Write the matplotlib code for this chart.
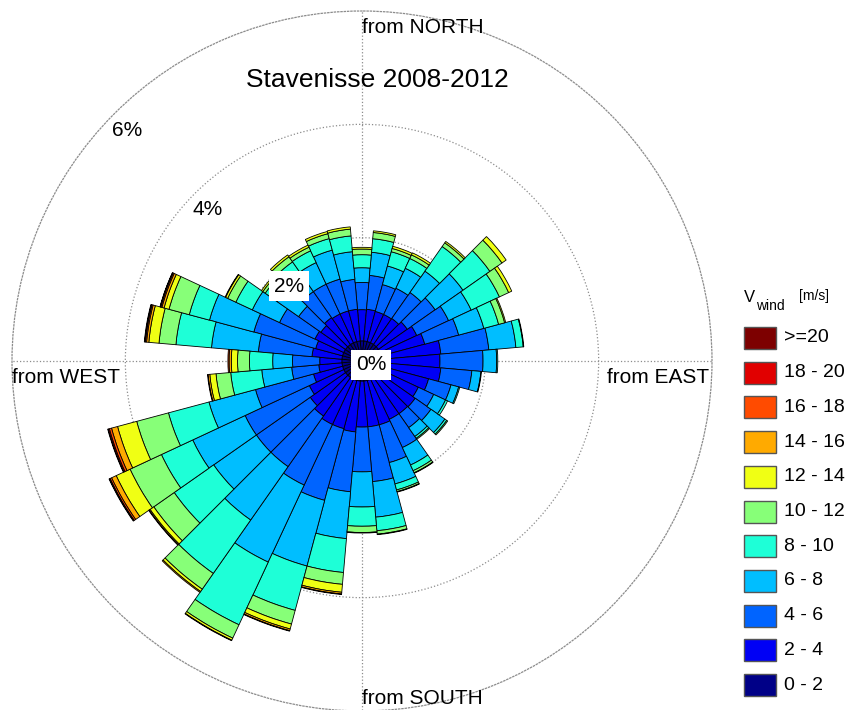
import numpy as np
import matplotlib
matplotlib.use("Agg")
import matplotlib.pyplot as plt
from matplotlib.patches import Rectangle

plt.rcParams["font.family"] = ["Liberation Sans", "DejaVu Sans"]

# ------------ data (frequency in % per 10 deg sector, "from" direction) ------------
DIRS = [0, 10, 20, 30, 40, 50, 60, 70, 80, 90, 100, 110,
        120, 130, 140, 150, 160, 170, 180, 190, 200, 210, 220, 230,
        240, 250, 260, 270, 280, 290, 300, 310, 320, 330, 340, 350]

F_0_2 = [0.18, 0.18, 0.18, 0.18, 0.18, 0.18, 0.18, 0.18, 0.18, 0.18, 0.18, 0.18,
         0.18, 0.18, 0.18, 0.18, 0.18, 0.18, 0.18, 0.18, 0.18, 0.18, 0.18, 0.18,
         0.18, 0.18, 0.18, 0.18, 0.18, 0.18, 0.18, 0.18, 0.18, 0.18, 0.18, 0.18]
F_2_4 = [0.55, 0.56, 0.55, 0.55, 0.56, 0.62, 0.71, 0.79, 1.04, 1.02, 1.04, 0.86,
         0.74, 0.79, 0.78, 0.78, 0.81, 0.81, 0.81, 0.90, 0.88, 0.88, 0.83, 0.76,
         0.67, 0.53, 0.41, 0.39, 0.53, 0.49, 0.56, 0.53, 0.58, 0.56, 0.56, 0.56]
F_4_6 = [0.48, 0.60, 0.49, 0.51, 0.56, 0.60, 0.62, 0.62, 0.85, 0.76, 0.55, 0.41,
         0.30, 0.34, 0.30, 0.55, 0.69, 0.97, 0.79, 1.06, 1.31, 1.18, 1.09, 1.16,
         1.25, 1.06, 0.48, 0.48, 0.95, 1.13, 0.69, 0.48, 0.56, 0.58, 0.58, 0.53]
F_6_8 = [0.26, 0.41, 0.34, 0.39, 0.46, 0.60, 0.44, 0.46, 0.48, 0.24, 0.16, 0.14,
         0.23, 0.30, 0.19, 0.34, 0.39, 0.63, 0.62, 0.83, 1.20, 1.50, 1.15, 0.92,
         1.02, 0.85, 0.53, 0.35, 0.83, 0.81, 0.53, 0.46, 0.34, 0.42, 0.53, 0.49]
F_8_10 = [0.23, 0.24, 0.26, 0.19, 0.53, 0.58, 0.55, 0.27, 0.13, 0.02, 0.01, 0.02,
          0.04, 0.04, 0.04, 0.11, 0.11, 0.24, 0.34, 0.60, 0.81, 1.22, 1.15, 0.85,
          0.61, 0.74, 0.55, 0.41, 0.63, 0.37, 0.32, 0.26, 0.30, 0.23, 0.21, 0.28]
F_10_12 = [0.10, 0.11, 0.06, 0.07, 0.08, 0.26, 0.18, 0.11, 0.01, 0.0, 0.0, 0.0,
           0.0, 0.02, 0.02, 0.04, 0.03, 0.06, 0.11, 0.21, 0.25, 0.26, 0.34, 0.44,
           0.61, 0.58, 0.26, 0.21, 0.30, 0.37, 0.16, 0.05, 0.11, 0.07, 0.09, 0.12]
F_12_14 = [0.03, 0.03, 0.04, 0.04, 0.03, 0.09, 0.06, 0.02, 0.0, 0.0, 0.0, 0.0,
           0.0, 0.0, 0.0, 0.01, 0.01, 0.01, 0.01, 0.14, 0.09, 0.04, 0.05, 0.08,
           0.27, 0.35, 0.11, 0.11, 0.18, 0.09, 0.04, 0.03, 0.04, 0.04, 0.04, 0.04]
F_14_16 = [0.0, 0.0, 0.0, 0.0, 0.0, 0.0, 0.0, 0.0, 0.0, 0.0, 0.0, 0.0,
           0.0, 0.0, 0.0, 0.0, 0.0, 0.0, 0.0, 0.03, 0.03, 0.01, 0.02, 0.02,
           0.09, 0.11, 0.03, 0.04, 0.04, 0.04, 0.01, 0.0, 0.0, 0.0, 0.0, 0.0]
F_16_18 = [0.0, 0.0, 0.0, 0.0, 0.0, 0.0, 0.0, 0.0, 0.0, 0.0, 0.0, 0.0,
           0.0, 0.0, 0.0, 0.0, 0.0, 0.0, 0.0, 0.01, 0.01, 0.0, 0.0, 0.01,
           0.03, 0.04, 0.01, 0.02, 0.02, 0.02, 0.0, 0.0, 0.0, 0.0, 0.0, 0.0]
F_18_20 = [0.0, 0.0, 0.0, 0.0, 0.0, 0.0, 0.0, 0.0, 0.0, 0.0, 0.0, 0.0,
           0.0, 0.0, 0.0, 0.0, 0.0, 0.0, 0.0, 0.0, 0.0, 0.0, 0.0, 0.0,
           0.01, 0.02, 0.0, 0.0, 0.01, 0.01, 0.0, 0.0, 0.0, 0.0, 0.0, 0.0]
F_20_UP = [0.0, 0.0, 0.0, 0.0, 0.0, 0.0, 0.0, 0.0, 0.0, 0.0, 0.0, 0.0,
           0.0, 0.0, 0.0, 0.0, 0.0, 0.0, 0.0, 0.0, 0.0, 0.0, 0.0, 0.0,
           0.01, 0.01, 0.0, 0.0, 0.01, 0.005, 0.0, 0.0, 0.0, 0.0, 0.0, 0.0]

CLASSES = [F_0_2, F_2_4, F_4_6, F_6_8, F_8_10, F_10_12,
           F_12_14, F_14_16, F_16_18, F_18_20, F_20_UP]
LABELS = ["0 - 2", "2 - 4", "4 - 6", "6 - 8", "8 - 10", "10 - 12",
          "12 - 14", "14 - 16", "16 - 18", "18 - 20", ">=20"]
COLORS = ["#000087", "#0000F5", "#0064FF", "#00BEFF", "#1EFFD7", "#87FF78",
          "#F0FF14", "#FFAA00", "#FF4B00", "#E10000", "#7D0000"]
RINGS = [2, 4, 6]
# -----------------------------------------------------------------------------------

fig = plt.figure(figsize=(8.51, 7.10), dpi=100)
ax = fig.add_axes([12 / 851, -1 / 710, 700 / 851, 700 / 710], projection="polar")
ax.set_theta_zero_location("N")
ax.set_theta_direction(-1)

theta = np.deg2rad(DIRS)
width = np.deg2rad(10)
bottom = np.zeros(len(DIRS))
for vals, col in zip(CLASSES, COLORS):
    vals = np.asarray(vals, dtype=float)
    m = vals > 0
    ax.bar(theta[m], vals[m], width=width, bottom=bottom[m], color=col,
           edgecolor="k", linewidth=0.6, zorder=3)
    bottom += vals

ax.set_ylim(0, RINGS[-1])
ax.set_rorigin(-0.176)
ax.set_yticks(RINGS[:-1])
ax.set_yticklabels([])
ax.set_xticks(np.deg2rad([0, 90, 180, 270]))
ax.set_xticklabels([])
ax.set_axisbelow(True)
ax.grid(True, color="#8c8c8c", linestyle=":", linewidth=0.9)
ax.spines["polar"].set_linestyle(":")
ax.spines["polar"].set_color("#8c8c8c")
ax.spines["polar"].set_linewidth(0.9)
ax.spines["inner"].set_visible(False)

# direction labels
ax.text(0.5, 0.9686, "from NORTH", transform=ax.transAxes, ha="left", va="baseline", fontsize=15)
ax.text(0.5, 0.010, "from SOUTH", transform=ax.transAxes, ha="left", va="baseline", fontsize=15)
ax.text(0.0, 0.4686, "from WEST", transform=ax.transAxes, ha="left", va="baseline", fontsize=15)
ax.text(0.9957, 0.4686, "from EAST", transform=ax.transAxes, ha="right", va="baseline", fontsize=15)

# ring labels
box = dict(boxstyle="square,pad=0.25", fc="white", ec="none")
ax.text(0.164, 0.83, "6%", transform=ax.transAxes, ha="center", va="center", fontsize=15, zorder=5)
ax.text(0.28, 0.716, "4%", transform=ax.transAxes, ha="center", va="center", fontsize=15, zorder=5)
ax.text(0.3957, 0.607, "2%", transform=ax.transAxes, ha="center", va="center", fontsize=15,
        bbox=box, zorder=5)
ax.text(0.5129, 0.4943, "0%", transform=ax.transAxes, ha="center", va="center", fontsize=15,
        bbox=box, zorder=5)

fig.text(377 / 851, 1 - 87 / 710, "Stavenisse 2008-2012", ha="center", va="baseline", fontsize=19)

# legend (drawn in pixel coords)
lax = fig.add_axes([0, 0, 1, 1])
lax.set_xlim(0, 851)
lax.set_ylim(710, 0)
lax.axis("off")
lax.text(744, 302, "V", fontsize=12, va="baseline")
lax.text(756, 310, "wind", fontsize=10, va="baseline")
lax.text(799, 300, "[m/s]", fontsize=10, va="baseline")
for i, (lab, col) in enumerate(zip(LABELS[::-1], COLORS[::-1])):
    top = 327 + i * 34.7
    lax.add_patch(Rectangle((744, top), 32, 22, fc=col, ec="#555555", lw=1))
    lax.text(784, top + 11, lab, fontsize=14, va="center")

fig.savefig("out.png", dpi=100)
